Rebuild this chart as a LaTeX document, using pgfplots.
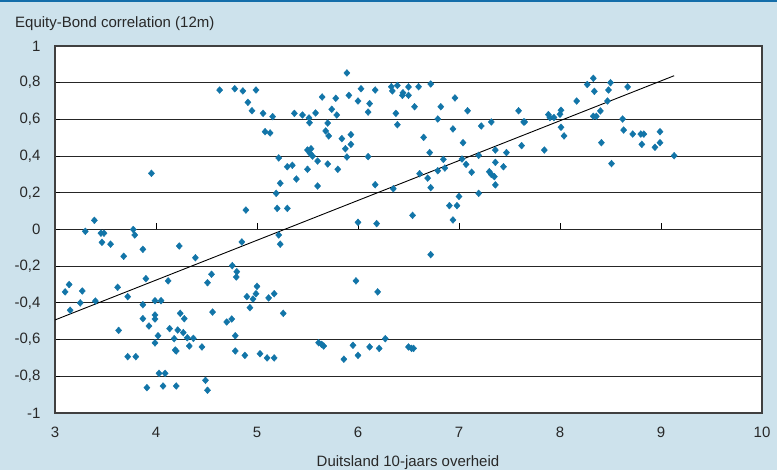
\documentclass[border=0pt]{standalone}
\usepackage{pgfplots}
\pgfplotsset{compat=1.18}
\usepackage{fontspec}
\setmainfont{Liberation Sans}
\definecolor{bg}{RGB}{205,226,236}
\definecolor{mk}{RGB}{18,117,168}
\definecolor{topline}{RGB}{20,110,170}
\definecolor{txt}{RGB}{40,40,40}
\begin{document}
\begin{tikzpicture}
\useasboundingbox (0pt,0pt) rectangle (777pt,470pt);
\fill[bg] (0pt,0pt) rectangle (777pt,470pt);
\fill[topline] (0pt,468pt) rectangle (777pt,470pt);
\begin{axis}[
 at={(55pt,57pt)}, anchor=south west,
 width=707pt, height=367pt, scale only axis,
 xmin=3, xmax=10, ymin=-1, ymax=1,
 xtick={3,4,5,6,7,8,9,10},
 xticklabels={3,4,5,6,7,8,9,10},
 ytick={-1,-0.8,-0.6,-0.4,-0.2,0,0.2,0.4,0.6,0.8,1},
 yticklabels={{-1},{-0,8},{-0,6},{-0,4},{-0,2},{0},{0,2},{0,4},{0,6},{0,8},{1}},
 ymajorgrids, grid style={line width=1.1pt, color=black!85},
 axis line style={line width=1.3pt, color=black!75},
 axis background/.style={fill=white},
 xtick style={draw=none},
 ytick pos=left, tick align=inside, ytick style={line width=1pt, black}, major tick length=5pt,
 tick label style={font=\fontsize{15}{17}\selectfont, text=txt},
 xticklabel style={yshift=-11pt},
 yticklabel style={xshift=-11pt},
]
\addplot[only marks, mark=diamond*, mark size=3.4pt, color=mk, mark options={xscale=1.2, draw=mk, fill=mk}] table {
x y
3.10 -0.34
3.14 -0.30
3.15 -0.44
3.25 -0.40
3.27 -0.335
3.30 -0.01
3.39 0.05
3.40 -0.39
3.455 -0.02
3.485 -0.02
3.465 -0.07
3.55 -0.08
3.62 -0.315
3.63 -0.55
3.68 -0.146
3.72 -0.366
3.72 -0.693
3.80 -0.693
3.775 0.0
3.79 -0.03
3.87 -0.108
3.87 -0.41
3.90 -0.268
3.87 -0.486
3.93 -0.526
3.91 -0.862
3.955 0.306
3.99 -0.388
4.05 -0.388
3.99 -0.466
3.99 -0.488
4.02 -0.579
3.99 -0.618
4.03 -0.784
4.09 -0.784
4.07 -0.853
4.12 -0.28
4.135 -0.54
4.18 -0.595
4.19 -0.657
4.20 -0.662
4.20 -0.853
4.215 -0.548
4.23 -0.09
4.24 -0.457
4.27 -0.562
4.28 -0.486
4.31 -0.59
4.33 -0.635
4.37 -0.593
4.39 -0.154
4.455 -0.64
4.49 -0.822
4.51 -0.876
4.51 -0.29
4.55 -0.244
4.56 -0.45
4.70 -0.504
4.75 -0.488
4.755 -0.197
4.80 -0.23
4.795 -0.259
4.785 -0.579
4.785 -0.662
4.85 -0.068
4.88 -0.686
4.89 0.106
4.90 -0.366
4.93 -0.426
4.96 -0.379
4.99 -0.35
5.00 -0.31
5.03 -0.677
5.10 -0.70
5.17 -0.70
5.115 -0.373
5.17 -0.35
5.20 0.115
5.30 0.115
5.215 -0.03
5.23 -0.08
5.26 -0.457
6.72 -0.137
5.98 -0.28
6.195 -0.34
5.61 -0.617
5.64 -0.626
5.66 -0.635
5.95 -0.631
5.86 -0.707
6.00 -0.686
6.115 -0.64
6.21 -0.648
6.27 -0.595
6.50 -0.64
6.53 -0.648
6.55 -0.648
4.63 0.76
4.78 0.767
4.86 0.755
4.99 0.76
4.91 0.693
4.95 0.647
5.06 0.633
5.155 0.615
5.08 0.533
5.13 0.526
5.215 0.39
5.30 0.342
5.35 0.35
5.39 0.275
5.23 0.252
5.19 0.197
5.37 0.633
5.45 0.624
5.515 0.608
5.52 0.582
5.58 0.635
5.645 0.722
5.70 0.58
5.68 0.537
5.71 0.51
5.74 0.655
5.78 0.715
5.79 0.624
5.89 0.853
5.91 0.731
5.84 0.495
5.93 0.517
5.875 0.44
5.93 0.464
5.89 0.395
5.50 0.433
5.535 0.44
5.525 0.415
5.55 0.40
5.60 0.373
5.50 0.328
5.70 0.357
5.80 0.328
5.60 0.237
6.00 0.70
6.03 0.767
6.115 0.686
6.10 0.64
6.17 0.76
6.10 0.397
6.17 0.244
6.00 0.039
6.185 0.032
6.33 0.778
6.34 0.755
6.39 0.785
6.445 0.745
6.44 0.731
6.50 0.777
6.50 0.731
6.60 0.778
6.72 0.793
6.56 0.669
6.375 0.633
6.39 0.571
6.82 0.669
6.79 0.602
6.96 0.717
6.94 0.548
6.65 0.502
6.71 0.419
6.845 0.382
6.79 0.32
6.86 0.335
6.61 0.304
6.69 0.28
6.72 0.228
6.35 0.222
6.54 0.077
6.905 0.13
6.98 0.13
6.94 0.052
7.00 0.18
8.27 0.79
8.33 0.824
8.34 0.753
8.50 0.80
8.48 0.76
8.67 0.777
8.47 0.70
8.40 0.646
8.33 0.617
8.36 0.617
8.165 0.70
8.01 0.65
8.00 0.628
8.01 0.557
8.04 0.51
7.885 0.626
7.90 0.61
7.94 0.61
7.845 0.433
7.59 0.647
7.64 0.586
7.65 0.586
7.62 0.457
7.47 0.419
7.44 0.342
7.36 0.433
7.36 0.366
7.30 0.315
7.32 0.30
7.35 0.288
7.36 0.243
7.32 0.586
7.22 0.564
7.195 0.404
7.195 0.197
7.125 0.312
7.085 0.647
7.04 0.473
7.03 0.384
7.07 0.355
8.41 0.473
8.51 0.359
8.62 0.602
8.63 0.542
8.72 0.52
8.80 0.52
8.83 0.52
8.81 0.464
8.99 0.533
8.99 0.473
8.94 0.448
9.13 0.402
};
\addplot[black, line width=0.9pt] coordinates {(3,-0.493) (9.13,0.838)};
\pgfplotsinvokeforeach{4,...,9}{\draw[black, line width=1pt] (axis cs:#1,0) -- ++(0pt,6pt);}
\end{axis}
\node[anchor=base west, inner sep=0pt, text=txt, font=\fontsize{15}{17}\selectfont] at (15pt,442pt) {Equity-Bond correlation (12m)};
\node[anchor=base, inner sep=0pt, text=txt, font=\fontsize{15}{17}\selectfont] at (408pt,3pt) {Duitsland 10-jaars overheid};
\end{tikzpicture}
\end{document}
